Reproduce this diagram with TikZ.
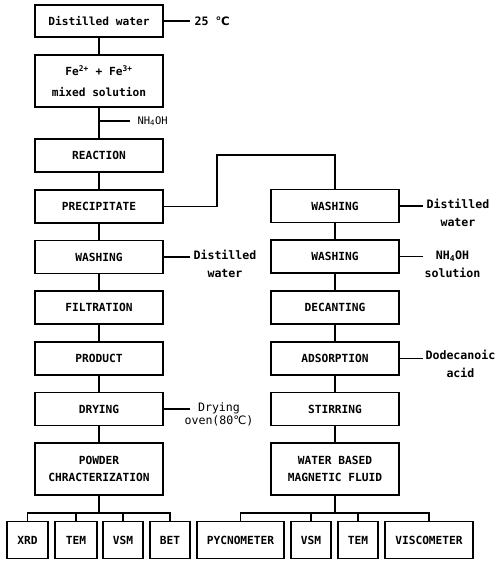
\documentclass[tikz,border=0pt]{standalone}
\usepackage{fontspec}
\setmonofont{DejaVu Sans Mono}
\newfontfamily\celsfont{DejaVu Sans}
\newcommand\degC{{\celsfont\char"2103}}
\begin{document}
\begin{tikzpicture}[x=1pt,y=-1pt,line width=1.1pt,
  box/.style={draw,line width=1.1pt,minimum width=128pt,minimum height=33pt,inner sep=0pt,align=center,
    font=\fontsize{11.2}{17}\selectfont\ttfamily\bfseries},
  tall/.style={minimum height=52pt},
  sbox/.style={draw,line width=1.1pt,minimum height=37pt,inner sep=0pt,align=center,
    font=\fontsize{11.2}{17}\selectfont\ttfamily\bfseries},
  side/.style={align=center,inner sep=0pt,font=\fontsize{11.6}{18}\selectfont\ttfamily\bfseries},
  sidereg/.style={align=center,inner sep=0pt,font=\fontsize{11.6}{13}\selectfont\ttfamily},
  nhlab/.style={inner sep=0pt,font=\fontsize{10.5}{12}\selectfont\ttfamily}]
\useasboundingbox (0,0) rectangle (496,566);
% left column
\node[box,minimum height=32pt] (dw) at (99,21) {Distilled water};
\node[box,tall,font=\fontsize{11.2}{21}\selectfont\ttfamily\bfseries] (fe) at (99,81) {Fe\textsuperscript{2+} + Fe\textsuperscript{3+}\\mixed solution};
\node[box] (reac) at (99,155.5) {REACTION};
\node[box] (prec) at (99,206.5) {PRECIPITATE};
\node[box] (wa1) at (99,257) {WASHING};
\node[box] (filt) at (99,307.5) {FILTRATION};
\node[box] (prod) at (99,358.5) {PRODUCT};
\node[box] (dry) at (99,409) {DRYING};
\node[box,tall] (powd) at (99,469) {POWDER\\CHRACTERIZATION};
% right column
\node[box] (rw1) at (335,206) {WASHING};
\node[box] (rw2) at (335,256.5) {WASHING};
\node[box] (dec) at (335,307.5) {DECANTING};
\node[box] (ads) at (335,358.5) {ADSORPTION};
\node[box] (stir) at (335,409) {STIRRING};
\node[box,tall] (wbmf) at (335,469) {WATER BASED\\MAGNETIC FLUID};
% bottom row
\node[sbox,minimum width=41pt] (xrd) at (27.5,540) {XRD};
\node[sbox,minimum width=42pt] (tem1) at (76,540) {TEM};
\node[sbox,minimum width=40pt] (vsm1) at (123,540) {VSM};
\node[sbox,minimum width=40pt] (bet) at (170,540) {BET};
\node[sbox,minimum width=87pt] (pyc) at (240.5,540) {PYCNOMETER};
\node[sbox,minimum width=40pt] (vsm2) at (311,540) {VSM};
\node[sbox,minimum width=40pt] (tem2) at (358,540) {TEM};
\node[sbox,minimum width=88pt] (visc) at (429,540) {VISCOMETER};
% main flow
\draw (dw) -- (fe);
\draw (fe) -- (reac);
\draw (reac) -- (prec);
\draw (prec) -- (wa1);
\draw (wa1) -- (filt);
\draw (filt) -- (prod);
\draw (prod) -- (dry);
\draw (dry) -- (powd);
\coordinate (jog) at (217,155);
\draw (prec.east) -| (jog) -| (rw1.north);
\draw (rw1) -- (rw2);
\draw (rw2) -- (dec);
\draw (dec) -- (ads);
\draw (ads) -- (stir);
\draw (stir) -- (wbmf);
% branches
\coordinate (bl) at (99,513);
\coordinate (br) at (335,513);
\draw (powd.south) -- (bl);
\draw (xrd.north) |- (bet.north |- bl) -- (bet.north);
\draw (tem1.north) -- (tem1.north |- bl);
\draw (vsm1.north) -- (vsm1.north |- bl);
\draw (wbmf.south) -- (br);
\draw (pyc.north) |- (visc.north |- br) -- (visc.north);
\draw (vsm2.north) -- (vsm2.north |- br);
\draw (tem2.north) -- (tem2.north |- br);
% side labels
\coordinate (c25) at (190,21);
\draw (dw.east) -- (c25);
\node[side,anchor=west] (t25) at (194,21) {25 \degC};
\coordinate (nhA) at (99,121);
\coordinate (nhB) at (130,121);
\draw (nhA) -- (nhB);
\node[nhlab,anchor=west] (tnh) at (137,121) {NH\textsubscript{4}OH};
\coordinate (cw1) at (190,257);
\draw (wa1.east) -- (cw1);
\node[side,anchor=west] (tw1) at (193,264) {Distilled\\water};
\coordinate (cdr) at (190,409);
\draw (dry.east) -- (cdr);
\node[sidereg,anchor=west] (tdr) at (184,414) {Drying\\oven(80\degC)};
\coordinate (cr1) at (423,206);
\draw (rw1.east) -- (cr1);
\node[side,anchor=west] (tr1) at (426,213) {Distilled\\water};
\coordinate (cr2) at (423,256.5);
\draw (rw2.east) -- (cr2);
\node[side,anchor=west] (tr2) at (424,264) {NH\textsubscript{4}OH\\solution};
\coordinate (cad) at (423,358.5);
\draw (ads.east) -- (cad);
\node[side,anchor=west] (tad) at (425,364) {Dodecanoic\\acid};
\end{tikzpicture}
\end{document}
